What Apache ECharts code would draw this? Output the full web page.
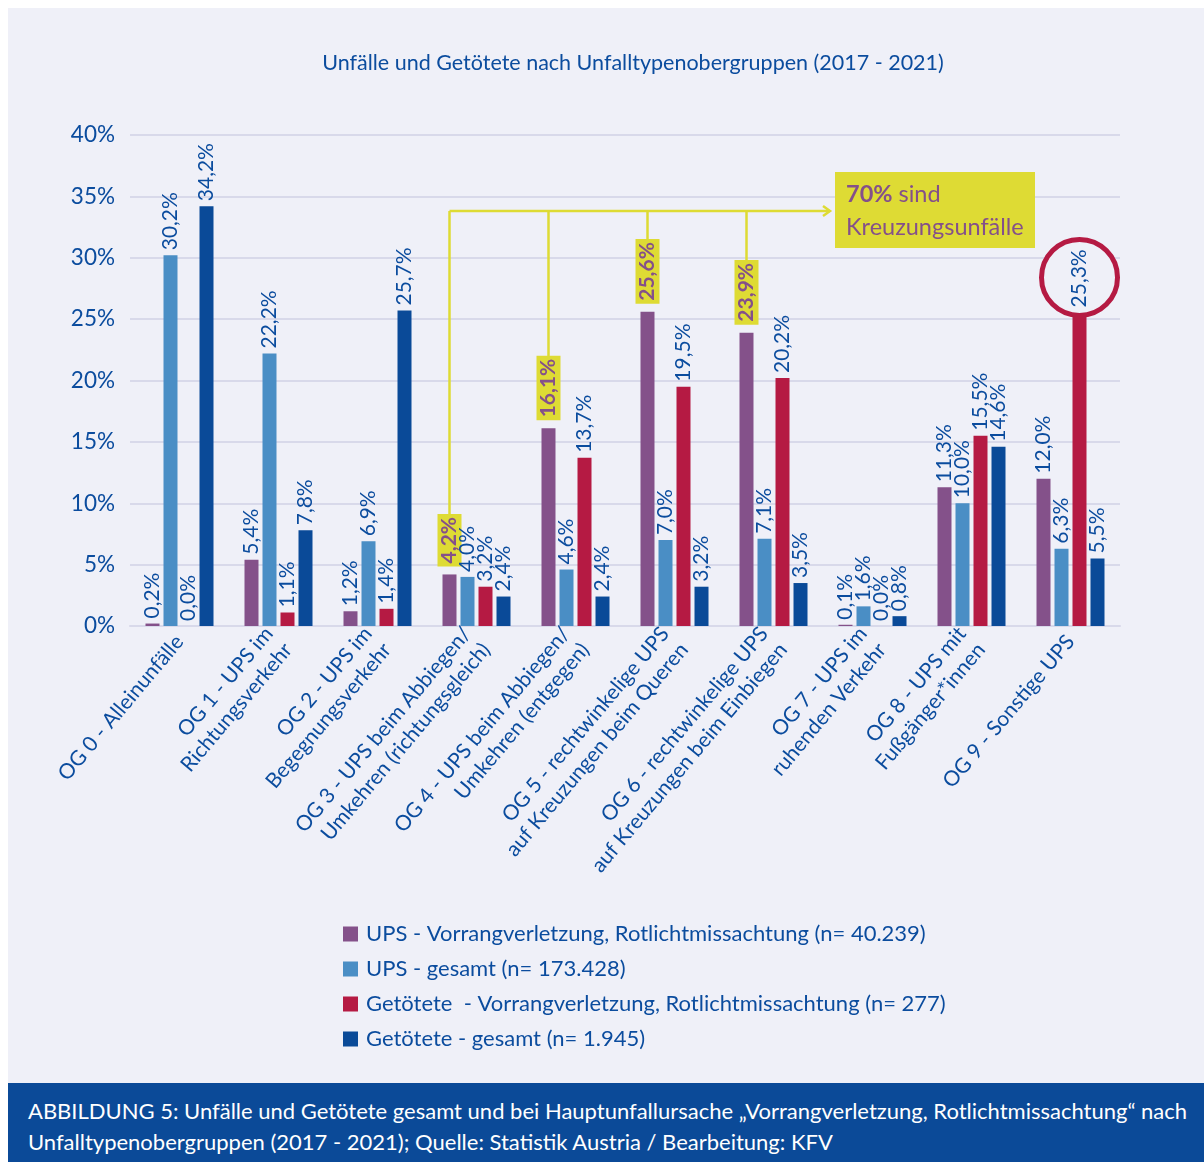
<!DOCTYPE html>
<html>
<head>
<meta charset="utf-8">
<script src="https://cdn.jsdelivr.net/npm/echarts@6/dist/echarts.min.js"></script>
<style>
  body { margin: 0; background: #fff; }
  #wrap { position: relative; width: 1204px; height: 1162px; overflow: hidden; }
  #bg { position: absolute; left: 8px; top: 8px; width: 1196px; height: 1075px; background: #eff0f8; }
  #chart { position: absolute; left: 0; top: 0; width: 1204px; height: 1162px; }
  #caption {
    position: absolute; left: 8px; top: 1083px; width: 1196px; height: 79px;
    background: #0b4a98; color: #fff; font-family: Lato, sans-serif; font-size: 22px;
    line-height: 31px; padding: 12px 0 0 20px; box-sizing: border-box; white-space: nowrap;
  }
</style>
</head>
<body>
<div id="wrap">
  <div id="bg"></div>
  <div id="chart"></div>
  <div id="caption">ABBILDUNG 5: Unfälle und Getötete gesamt und bei Hauptunfallursache „Vorrangverletzung, Rotlichtmissachtung“ nach<br>Unfalltypenobergruppen (2017 - 2021); Quelle: Statistik Austria / Bearbeitung: KFV</div>
</div>
<script>
// data
const categories = [
  'OG 0 - Alleinunfälle',
  'OG 1 - UPS im\nRichtungsverkehr',
  'OG 2 - UPS im\nBegegnungsverkehr',
  'OG 3 - UPS beim Abbiegen/\nUmkehren (richtungsgleich)',
  'OG 4 - UPS beim Abbiegen/\nUmkehren (entgegen)',
  'OG 5 - rechtwinkelige UPS\nauf Kreuzungen beim Queren',
  'OG 6 - rechtwinkelige UPS\nauf Kreuzungen beim Einbiegen',
  'OG 7 - UPS im\nruhenden Verkehr',
  'OG 8 - UPS mit\nFußgänger*innen',
  'OG 9 - Sonstige UPS'
];
const seriesNames = [
  'UPS - Vorrangverletzung, Rotlichtmissachtung (n= 40.239)',
  'UPS - gesamt (n= 173.428)',
  'Getötete  - Vorrangverletzung, Rotlichtmissachtung (n= 277)',
  'Getötete - gesamt (n= 1.945)'
];
const upsVorrang = [0.2, 5.4, 1.2, 4.2, 16.1, 25.6, 23.9, 0.1, 11.3, 12.0];
const upsGesamt = [30.2, 22.2, 6.9, 4.0, 4.6, 7.0, 7.1, 1.6, 10.0, 6.3];
const totVorrang = [0.0, 1.1, 1.4, 3.2, 13.7, 19.5, 20.2, 0.0, 15.5, 25.3];
const totGesamt = [34.2, 7.8, 25.7, 2.4, 2.4, 3.2, 3.5, 0.8, 14.6, 5.5];
const seriesValues = [upsVorrang, upsGesamt, totVorrang, totGesamt];
const colors = ['#84518a', '#4a8ec5', '#b51a43', '#0a4a98'];
// Kreuzungsunfälle (purple labels highlighted)
const highlightIdx = [3, 4, 5, 6];
// circled value: Getötete Vorrang, OG 9
const circleIdx = 9;

const BLUE = '#0b4c9e';
const YELLOW = '#dedb34';
const PURPLE = '#84508a';
const FONT = 'Lato';

const fmt = (v) => v.toFixed(1).replace('.', ',') + '%';

const chart = echarts.init(document.getElementById('chart'));

const buildSeries = (s) => {
  return {
    name: seriesNames[s],
    type: 'bar',
    barWidth: 14,
    barGap: '28.6%',
    itemStyle: { color: colors[s] },
    label: {
      show: true,
      position: 'top',
      rotate: 90,
      align: 'left',
      verticalAlign: 'middle',
      distance: 5,
      color: BLUE,
      fontSize: 21,
      fontFamily: FONT,
      formatter: (p) => fmt(p.value),
    },
    data: seriesValues[s].map((v, i) => {
      if (s === 0 && highlightIdx.includes(i)) {
        return {
          value: v,
          label: { backgroundColor: YELLOW, color: PURPLE, fontWeight: 'bold', padding: [2, 3, 1, 3], distance: 8 },
        };
      }
      if (s === 2 && i === circleIdx) {
        return { value: v, label: { distance: 8 } };
      }
      return v;
    }),
  };
};

const option = {
  animation: false,
  textStyle: { fontFamily: FONT },
  title: {
    text: 'Unfälle und Getötete nach Unfalltypenobergruppen (2017 - 2021)',
    left: 628,
    top: 47,
    textAlign: 'center',
    textStyle: { color: BLUE, fontSize: 21.5, fontWeight: 'normal', fontFamily: FONT },
  },
  grid: { left: 130, right: 84, top: 135, bottom: 536, containLabel: false },
  legend: {
    orient: 'vertical',
    left: 338,
    top: 918,
    itemWidth: 15,
    itemHeight: 15,
    itemGap: 13,
    icon: 'rect',
    textStyle: { fontSize: 22, color: BLUE, fontFamily: FONT, padding: [0, 0, 0, 3] },
    data: seriesNames,
  },
  xAxis: {
    type: 'category',
    data: categories,
    axisTick: { show: false },
    axisLine: { lineStyle: { color: '#d8d9ea', width: 2 } },
    axisLabel: {
      interval: 0,
      rotate: 50,
      margin: 12,
      fontSize: 21,
      lineHeight: 25,
      color: BLUE,
      fontFamily: FONT,
    },
  },
  yAxis: {
    type: 'value',
    min: 0,
    max: 40,
    interval: 5,
    axisLine: { show: false },
    axisTick: { show: false },
    axisLabel: { formatter: '{value}%', fontSize: 22.5, color: BLUE, margin: 15, fontFamily: FONT },
    splitLine: { lineStyle: { color: '#d8d9ea', width: 2 } },
  },
  series: [0, 1, 2, 3].map(buildSeries),
};

chart.setOption(option);

// position of a bar top (series s, category i)
const barTop = (s, i) => {
  const p = chart.convertToPixel({ gridIndex: 0 }, [i, seriesValues[s][i]]);
  return [p[0] + (s - 1.5) * 18, p[1]];
};

const drawAnnotations = () => {
  const lineStyle = { stroke: YELLOW, lineWidth: 2.5 };
  const arrowY = chart.convertToPixel({ yAxisIndex: 0 }, 33.8);
  const drops = highlightIdx.map((i) => barTop(0, i));
  const boxX = 835;
  const arrowEnd = boxX - 5;
  let els = [];

  els.push({
    type: 'line', z: 1,
    shape: { x1: drops[0][0], y1: arrowY, x2: arrowEnd, y2: arrowY },
    style: lineStyle,
  });
  els.push({
    type: 'polyline', z: 1,
    shape: { points: [[arrowEnd - 7, arrowY - 5], [arrowEnd, arrowY], [arrowEnd - 7, arrowY + 5]] },
    style: { stroke: YELLOW, lineWidth: 2.5, fill: null },
  });
  drops.forEach((d) => {
    els.push({
      type: 'line', z: 1,
      shape: { x1: d[0], y1: arrowY, x2: d[0], y2: d[1] - 12 },
      style: lineStyle,
    });
  });
  els.push({
    type: 'rect', z: 1,
    shape: { x: boxX, y: 172, width: 200, height: 76 },
    style: { fill: YELLOW },
  });
  els.push({
    type: 'text', z: 2,
    x: 846, y: 178,
    style: {
      text: '{b|70%} sind\nKreuzungsunfälle',
      fill: PURPLE,
      fontSize: 23.5,
      fontFamily: FONT,
      lineHeight: 33,
      rich: { b: { fontWeight: 'bold', fontSize: 23.5, fontFamily: FONT, fill: PURPLE } },
    },
  });

  // circle round the 25,3% label
  const c = barTop(2, circleIdx);
  els.push({
    type: 'circle', z: 1,
    shape: { cx: c[0], cy: c[1] - 38, r: 38 },
    style: { fill: '#eff0f8', stroke: colors[2], lineWidth: 5 },
  });

  chart.setOption({ graphic: { elements: els } });
};

drawAnnotations();
</script>
</body>
</html>
